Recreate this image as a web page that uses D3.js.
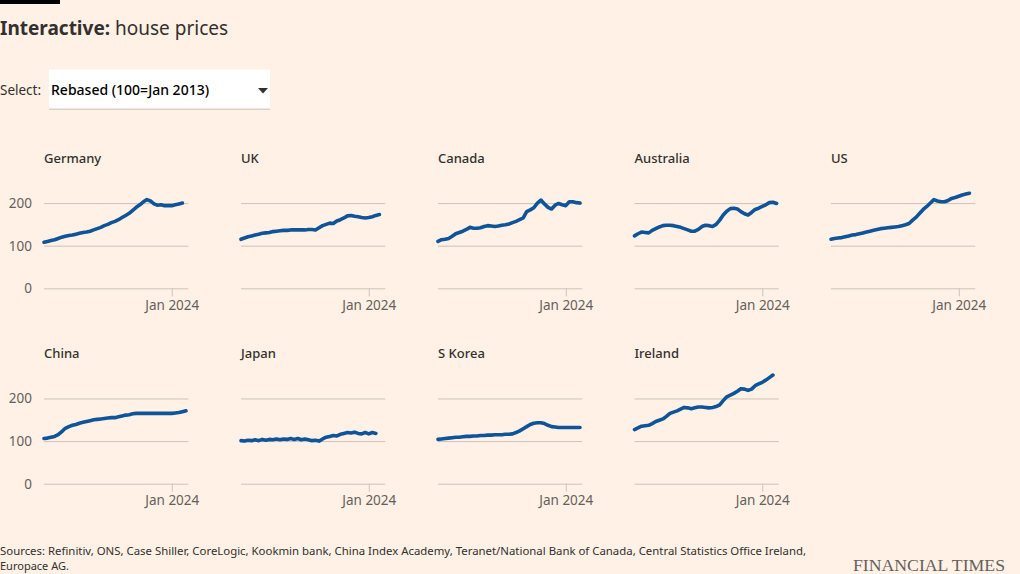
<!DOCTYPE html>
<html lang="en">
<head>
<meta charset="UTF-8">
<title>Interactive: house prices</title>
<script src="https://d3js.org/d3.v7.min.js"></script>
<style>
    body {
        margin: 0;
        background-color: #fff1e5;
        font-family: "Noto Sans", sans-serif;
        color: #33302e;
    }
    svg { display: block; }
    .panel-title { font-size: 13px; font-weight: 500; fill: #33302e; }
    .axis text { font-size: 13.5px; fill: #66605c; font-family: "Noto Sans", sans-serif; }
    .axis line { stroke: #cdc3ba; }
    .axis .domain { display: none; }
    .series { fill: none; stroke: #0f5499; stroke-width: 3.6px; stroke-linejoin: round; stroke-linecap: round; }
    .source { font-size: 11px; fill: #33302e; }
</style>
</head>
<body>
<div id="chart"></div>
<script>
    // Quarterly readings, Jan 2015 onwards (rebased, 100 = Jan 2013)
    const countries = ["Germany", "UK", "Canada", "Australia", "US", "China", "Japan", "S Korea", "Ireland"];

    const germany = [108,110,112,114, 117,120,122,124, 125,127,129,131, 132,134,137,140, 143,147,150,154,
                     157,161,166,171, 176,183,190,196, 203,208,205,198, 195,196,194,194, 194,196,198,200];
    const uk = [115,118,121,123, 125,127,129,130, 131,133,134,135, 136,136,137,137, 137,137,137,138,
                138,137,142,147, 150,153,152,158, 161,165,170,171, 169,168,166,165, 166,168,171,173];
    const canada = [110,114,115,117, 122,128,131,134, 138,143,141,141, 142,145,147,146, 145,146,148,149,
                    151,154,157,161, 165,180,184,189, 200,207,198,190, 186,195,199,196, 194,203,203,201, 200];
    const australia = [123,128,132,131, 130,136,140,144, 147,148,148,147, 145,143,140,137, 134,134,138,145,
                       148,147,145,150, 160,172,181,187, 188,186,180,175, 172,178,185,188, 192,196,201,202, 199];
    const us = [115,117,118,119, 121,123,125,126, 128,130,132,134, 136,138,140,141, 142,143,144,145,
                147,149,152,160, 167,176,185,192, 200,208,205,203, 203,206,211,213, 216,219,221,223];
    const china = [106,107,109,111, 115,122,130,134, 137,139,142,144, 146,148,150,151, 152,153,154,155,
                   155,157,159,161, 162,164,165,165, 165,165,165,165, 165,165,165,165, 165,166,167,169, 171];
    const japan = [101,100,102,101, 103,101,104,102, 104,103,105,103, 105,104,106,104, 106,103,105,103,
                   101,102,100,105, 109,111,113,112, 116,118,120,119, 121,118,117,120, 117,120,118];
    const skorea = [104,105,106,107, 108,109,109,110, 111,111,112,112, 113,113,114,114, 115,115,115,116,
                    116,117,120,124, 129,134,139,142, 143,143,141,137, 134,133,132,132, 132,132,132,132, 132];
    const ireland = [127,131,135,136, 137,141,146,149, 152,158,165,168, 171,175,179,178, 176,178,180,180,
                     179,178,179,181, 185,195,204,208, 212,217,223,222, 219,222,230,234, 238,243,249,255];

    const seriesValues = [germany, uk, canada, australia, us, china, japan, skorea, ireland];
    const yTicks = [0, 100, 200];
    const xTick = [new Date(2024, 0, 1)];

    const W = 1020, H = 574;
    const panelW = 144.3, panelH = 110.8;
    const colX = [44, 241, 438, 634.5, 831];
    const rowY = [177.5, 372.9];

    const quarters = d3.timeMonth.range(new Date(2015, 0, 1), new Date(2025, 3, 1), 3);

    const x = d3.scaleTime()
        .domain([new Date(2015, 0, 1), new Date(2025, 2, 1)])
        .range([0, panelW]);
    const y = d3.scaleLinear().domain([0, 260]).range([panelH, 0]);

    const line = d3.line()
        .x(d => x(d.date))
        .y(d => y(d.value));

    const svg = d3.select("#chart").append("svg")
        .attr("width", W)
        .attr("height", H);

    // Top bar and heading
    svg.append("rect").attr("x", 0).attr("y", 0).attr("width", 60).attr("height", 4).attr("fill", "#000");

    const heading = svg.append("text")
        .attr("x", 0).attr("y", 34.5)
        .style("font-size", "19px")
        .style("fill", "#33302e");
    heading.append("tspan").style("font-weight", 700).text("Interactive:");
    heading.append("tspan").text(" house prices");

    // Fake select control
    svg.append("text")
        .attr("x", 0).attr("y", 95)
        .style("font-size", "13.5px")
        .style("fill", "#33302e")
        .text("Select:");
    svg.append("rect")
        .attr("x", 49).attr("y", 70).attr("width", 221).attr("height", 40)
        .attr("fill", "#d9d0c8");
    svg.append("rect")
        .attr("x", 49).attr("y", 69.5).attr("width", 221).attr("height", 39)
        .attr("fill", "#fff");
    svg.append("text")
        .attr("x", 51).attr("y", 95)
        .style("font-size", "14px")
        .style("font-weight", 500)
        .style("fill", "#000")
        .text("Rebased (100=Jan 2013)");
    svg.append("path")
        .attr("d", "M258,88 L268,88 L263,93.5 Z")
        .attr("fill", "#33302e");

    // Small multiples
    countries.forEach((name, i) => {
        const col = i % 5, row = Math.floor(i / 5);
        const g = svg.append("g")
            .attr("transform", `translate(${colX[col]},${rowY[row]})`);

        g.append("text")
            .attr("class", "panel-title")
            .attr("x", 0)
            .attr("y", -14.8)
            .text(name);

        const yAxis = g.append("g")
            .attr("class", "axis")
            .call(d3.axisLeft(y).tickValues(yTicks).tickSize(-panelW).tickPadding(12));
        if (col !== 0) yAxis.selectAll("text").remove();

        g.append("g")
            .attr("class", "axis")
            .attr("transform", `translate(0,${panelH})`)
            .call(d3.axisBottom(x).tickValues(xTick).tickSize(8).tickPadding(4)
                .tickFormat(d3.timeFormat("Jan %Y")));

        const pts = seriesValues[i].map((v, k) => ({ date: quarters[k], value: v }));
        g.append("path")
            .attr("class", "series")
            .attr("d", line(pts));
    });

    // Footer
    svg.append("text")
        .attr("class", "source")
        .attr("x", 0).attr("y", 555)
        .attr("textLength", 806)
        .attr("lengthAdjust", "spacingAndGlyphs")
        .text("Sources: Refinitiv, ONS, Case Shiller, CoreLogic, Kookmin bank, China Index Academy, Teranet/National Bank of Canada, Central Statistics Office Ireland,");
    svg.append("text")
        .attr("class", "source")
        .attr("x", 0).attr("y", 570)
        .text("Europace AG.");

    svg.append("text")
        .attr("x", 1005).attr("y", 571)
        .attr("text-anchor", "end")
        .attr("textLength", 152)
        .attr("lengthAdjust", "spacingAndGlyphs")
        .style("font-family", "'Liberation Serif', 'DejaVu Serif', serif")
        .style("font-size", "17px")
        .style("fill", "#66605c")
        .text("FINANCIAL TIMES");
</script>
</body>
</html>
